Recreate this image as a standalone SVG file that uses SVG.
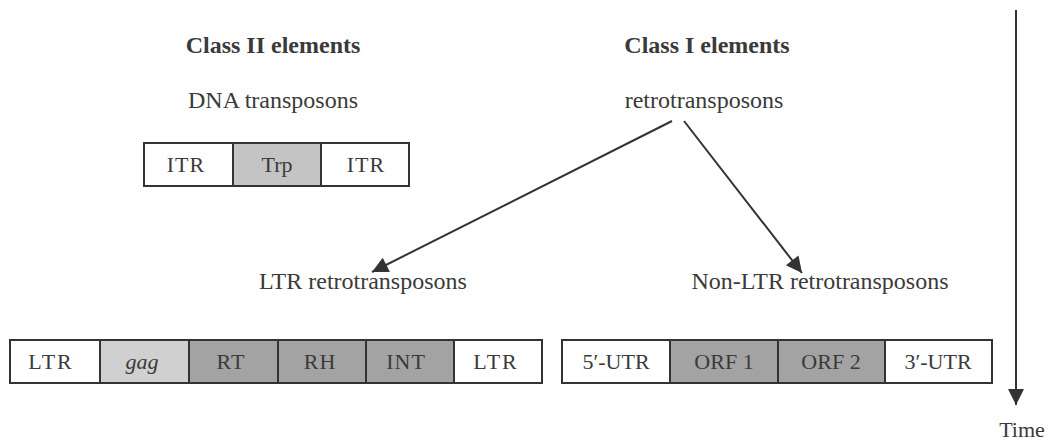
<svg xmlns="http://www.w3.org/2000/svg" width="1052" height="441" viewBox="0 0 1052 441">
<defs>
<style>
text{font-family:"Liberation Serif","Times New Roman",serif;fill:#3a3a3a}
.h{font-size:24px;font-weight:bold;text-anchor:middle}
.s{font-size:24px;text-anchor:middle}
.b{font-size:22px;text-anchor:middle}
.box{stroke:#333;stroke-width:2}
.w{fill:#fff}
.g1{fill:#c4c4c4}
.g2{fill:#d0d0d0}
.g3{fill:#a3a3a3}
.con{stroke:#333;stroke-width:2;fill:none}
</style>
<marker id="ah" viewBox="0 0 10 10" refX="10" refY="5" markerWidth="18" markerHeight="16" markerUnits="userSpaceOnUse" orient="auto">
<path d="M0,0 L10,5 L0,10 z" fill="#333"/>
</marker>
</defs>
<rect width="1052" height="441" fill="#fff"/>
<g id="titles">
<text class="h" x="273" y="53">Class II elements</text>
<text class="h" x="707" y="53">Class I elements</text>
</g>
<g id="dna-transposons">
<text class="s" x="273" y="108">DNA transposons</text>
<rect class="box w" x="144" y="143" width="89" height="43"/>
<rect class="box g1" x="233" y="143" width="88" height="43"/>
<rect class="box w" x="321" y="143" width="88" height="43"/>
<text class="b" x="186" y="172" letter-spacing="1">ITR</text>
<text class="b" x="277" y="172">Trp</text>
<text class="b" x="366" y="172" letter-spacing="1">ITR</text>
</g>
<g id="retrotransposons">
<text class="s" x="704" y="108">retrotransposons</text>
</g>
<g id="ltr-retrotransposons">
<text class="s" x="363" y="289">LTR retrotransposons</text>
<rect class="box w" x="10" y="340" width="90" height="43"/>
<rect class="box g2" x="100" y="340" width="89" height="43"/>
<rect class="box g3" x="189" y="340" width="89" height="43"/>
<rect class="box g3" x="278" y="340" width="88" height="43"/>
<rect class="box g3" x="366" y="340" width="88" height="43"/>
<rect class="box w" x="454" y="340" width="88" height="43"/>
<text class="b" x="51" y="369" letter-spacing="2">LTR</text>
<text class="b" x="142" y="369" font-style="italic">gag</text>
<text class="b" x="231" y="369" letter-spacing="1">RT</text>
<text class="b" x="320" y="369" letter-spacing="1">RH</text>
<text class="b" x="406" y="369" letter-spacing="1">INT</text>
<text class="b" x="496" y="369" letter-spacing="2">LTR</text>
</g>
<g id="non-ltr-retrotransposons">
<text class="s" x="820" y="289">Non-LTR retrotransposons</text>
<rect class="box w" x="562" y="340" width="108" height="43"/>
<rect class="box g3" x="670" y="340" width="108" height="43"/>
<rect class="box g3" x="778" y="340" width="107" height="43"/>
<rect class="box w" x="885" y="340" width="107" height="43"/>
<text class="b" x="616" y="369">5′-UTR</text>
<text class="b" x="724" y="369">ORF 1</text>
<text class="b" x="831" y="369">ORF 2</text>
<text class="b" x="938" y="369">3′-UTR</text>
</g>
<g id="time">
<text font-size="22" x="1022" y="437" text-anchor="middle">Time</text>
</g>
<g id="connectors">
<line class="con" x1="672" y1="121" x2="372" y2="272" marker-end="url(#ah)"/>
<line class="con" x1="684" y1="121" x2="802" y2="273" marker-end="url(#ah)"/>
<line class="con" x1="1016" y1="10" x2="1016" y2="405" marker-end="url(#ah)"/>
</g>
</svg>
